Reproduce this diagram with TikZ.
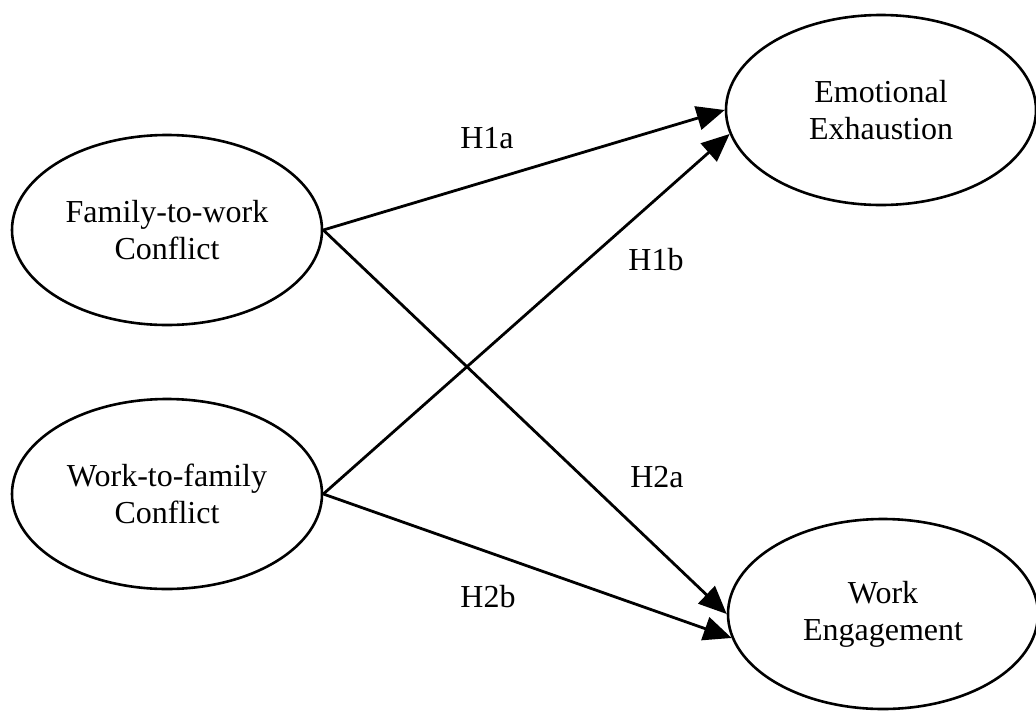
\documentclass[tikz,border=0pt]{standalone}
\usepackage{fontspec}
\setmainfont{Liberation Serif}
\usetikzlibrary{shapes.geometric,arrows.meta}
\begin{document}
\begin{tikzpicture}[x=1pt,y=-1pt,
  construct/.style={ellipse,draw,line width=2.6pt,minimum width=310pt,minimum height=190pt,
    inner sep=0pt,align=center,font=\fontsize{32}{37}\selectfont},
  hyp/.style={font=\fontsize{32}{37}\selectfont,inner sep=0pt},
  path/.style={line width=2.8pt,-{Triangle[length=28pt,width=24pt]}}]
\useasboundingbox (0,0) rectangle (1036,710);
\node[construct] (fw) at (167,230) {Family-to-work\\Conflict};
\node[construct] (wf) at (167,494) {Work-to-family\\Conflict};
\node[construct] (ee) at (881,110) {Emotional\\Exhaustion};
\node[construct] (we) at (883,614) {Work\\Engagement};
\draw[path] (fw.east) -- (ee.180);
\draw[path] (wf.east) -- (ee.189);
\draw[path] (fw.east) -- (we.180);
\draw[path] (wf.east) -- (we.189);
\node[hyp] (h1a) at (487,138) {H1a};
\node[hyp] (h1b) at (656,260) {H1b};
\node[hyp] (h2a) at (657,477) {H2a};
\node[hyp] (h2b) at (488,597) {H2b};
\end{tikzpicture}
\end{document}
